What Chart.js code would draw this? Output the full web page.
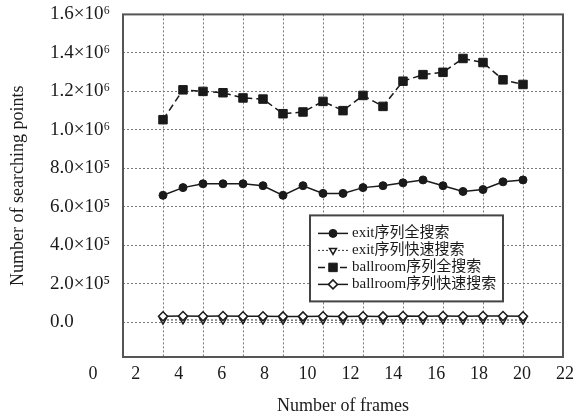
<!DOCTYPE html>
<html>
<head>
<meta charset="utf-8">
<script src="https://cdn.jsdelivr.net/npm/chart.js@4/dist/chart.umd.min.js"></script>
<style>
  html, body { margin: 0; padding: 0; background: #fff; }
  canvas { display: block; }
</style>
</head>
<body>
<canvas id="chart" width="584" height="417"></canvas>
<script>
// --- data ---
const frames = [2, 3, 4, 5, 6, 7, 8, 9, 10, 11, 12, 13, 14, 15, 16, 17, 18, 19, 20];

const exitFull = [660000, 700000, 720000, 720000, 720000, 710000, 660000, 710000, 670000, 670000,
                  700000, 710000, 725000, 740000, 710000, 680000, 690000, 730000, 740000];
const exitFast = [12000, 13000, 12000, 12000, 13000, 12000, 11000, 12000, 12000, 11000,
                  12000, 12000, 13000, 12000, 13000, 12000, 13000, 12000, 12000];
const ballroomFull = [1053000, 1208000, 1200000, 1193000, 1166000, 1160000, 1084000, 1093000, 1148000, 1100000,
                      1179000, 1122000, 1253000, 1287000, 1299000, 1371000, 1350000, 1260000, 1236000];
const ballroomFast = [32000, 33000, 32000, 33000, 32000, 32000, 31000, 31000, 32000, 31000,
                      32000, 31000, 33000, 32000, 33000, 32000, 33000, 33000, 32000];

const seriesNames = ['exit序列全搜索', 'exit序列快速搜索', 'ballroom序列全搜索', 'ballroom序列快速搜索'];

// tick labels
const yTicks = [0, 200000, 400000, 600000, 800000, 1000000, 1200000, 1400000, 1600000];
const yTickLabels = ['0.0', '2.0×10⁵', '4.0×10⁵', '6.0×10⁵', '8.0×10⁵', '1.0×10⁶', '1.2×10⁶', '1.4×10⁶', '1.6×10⁶'];
const xGrid = [0, 2, 4, 6, 8, 10, 12, 14, 16, 18, 20, 22];
const xTickLabels = [0, 2, 4, 6, 8, 10, 12, 14, 16, 18, 20, 22];

const SERIF = '"Liberation Serif", "Times New Roman", "Noto Sans CJK SC", serif';
const INK = '#1a1a1a';
const GRID = '#7a7a7a';

// frame round the plot
const framePlugin = {
    id: 'frame',
    afterDatasetsDraw(chart) {
        const { ctx, chartArea: a } = chart;
        ctx.save();
        ctx.strokeStyle = '#555';
        ctx.lineWidth = 2;
        ctx.strokeRect(a.left, a.top, a.right - a.left, a.bottom - a.top);
        ctx.restore();
    }
};

// boxed legend inside the plot, line sample + marker like the original
const boxLegend = {
    id: 'boxLegend',
    afterDatasetsDraw(chart) {
        const { ctx, chartArea: a } = chart;
        const left = a.left + 187, top = a.top + 201, w = 193, h = 86;
        ctx.save();
        ctx.fillStyle = '#fff';
        ctx.fillRect(left, top, w, h);
        ctx.strokeStyle = '#444';
        ctx.lineWidth = 2;
        ctx.strokeRect(left, top, w, h);

        chart.data.datasets.forEach((ds, i) => {
            const y = top + 18 + i * 17;
            ctx.save();
            ctx.strokeStyle = ds.borderColor;
            ctx.lineWidth = ds.borderWidth;
            ctx.setLineDash(ds.borderDash || []);
            ctx.beginPath();
            ctx.moveTo(left + 8, y);
            ctx.lineTo(left + 38, y);
            ctx.stroke();
            ctx.setLineDash([]);
            ctx.fillStyle = ds.pointBackgroundColor;
            ctx.strokeStyle = ds.pointBorderColor;
            ctx.lineWidth = ds.pointBorderWidth;
            Chart.helpers.drawPoint(ctx, {
                pointStyle: ds.pointStyle,
                rotation: ds.pointRotation || 0,
                radius: ds.pointRadius,
                borderWidth: ds.pointBorderWidth
            }, left + 23, y);
            ctx.restore();

            ctx.fillStyle = INK;
            ctx.font = '15px ' + SERIF;
            ctx.textBaseline = 'middle';
            ctx.fillText(ds.label, left + 42, y);
        });
        ctx.restore();
    }
};

const toPoints = vals => vals.map((v, i) => ({ x: frames[i], y: v }));

new Chart(document.getElementById('chart'), {
    type: 'line',
    data: {
        datasets: [
            {
                label: seriesNames[0], data: toPoints(exitFull), order: 0,
                borderColor: INK, borderWidth: 1.5,
                pointStyle: 'circle', pointRadius: 4,
                pointBackgroundColor: INK, pointBorderColor: INK, pointBorderWidth: 1
            },
            {
                label: seriesNames[1], data: toPoints(exitFast), order: 2,
                borderColor: '#333', borderWidth: 1, borderDash: [2, 2],
                pointStyle: 'triangle', pointRotation: 180, pointRadius: 4,
                pointBackgroundColor: '#fff', pointBorderColor: INK, pointBorderWidth: 1.5
            },
            {
                label: seriesNames[2], data: toPoints(ballroomFull), order: 0,
                borderColor: INK, borderWidth: 1.5, borderDash: [7, 4],
                pointStyle: 'rect', pointRadius: 6,
                pointBackgroundColor: INK, pointBorderColor: INK, pointBorderWidth: 1
            },
            {
                label: seriesNames[3], data: toPoints(ballroomFast), order: 1,
                borderColor: INK, borderWidth: 1.5,
                pointStyle: 'rectRot', pointRadius: 4.5,
                pointBackgroundColor: '#fff', pointBorderColor: INK, pointBorderWidth: 1.5
            }
        ]
    },
    options: {
        responsive: false,
        animation: false,
        layout: { padding: { left: 0, right: 21, top: 12, bottom: 0 } },
        plugins: {
            legend: { display: false },
            tooltip: { enabled: false }
        },
        scales: {
            x: {
                type: 'linear', position: 'bottom', weight: 0,
                min: 0, max: 22,
                afterBuildTicks: s => { s.ticks = xGrid.map(v => ({ value: v })); },
                ticks: { display: false },
                grid: { color: GRID, lineWidth: 1, drawTicks: false },
                border: { display: false, dash: [2, 2] }
            },
            xt: {
                type: 'linear', position: 'bottom', weight: 1,
                min: 1.4, max: 21.91,
                afterBuildTicks: s => { s.ticks = xTickLabels.map(v => ({ value: v })); },
                afterFit: s => { s.height = 60; },
                ticks: {
                    autoSkip: false, maxRotation: 0, padding: 6, color: INK,
                    font: { family: SERIF, size: 18 },
                    callback: v => String(v)
                },
                grid: { display: false, drawTicks: false },
                border: { display: false },
                title: {
                    display: true, text: 'Number of frames', color: INK,
                    font: { family: SERIF, size: 18 },
                    padding: { top: 0, bottom: 0 }
                }
            },
            y: {
                type: 'linear', position: 'left', weight: 0,
                min: -180000, max: 1600000,
                afterBuildTicks: s => { s.ticks = yTicks.map(v => ({ value: v })); },
                afterFit: s => { s.width = 73; },
                ticks: {
                    crossAlign: 'far', color: INK,
                    font: { family: SERIF, size: 19 },
                    callback: (v, i) => yTickLabels[i]
                },
                grid: { color: GRID, lineWidth: 1, drawTicks: false },
                border: { display: false, dash: [2, 2] }
            },
            yt: {
                type: 'linear', position: 'left', weight: 1,
                afterFit: s => { s.width = 50; },
                ticks: { display: false },
                grid: { display: false, drawTicks: false },
                border: { display: false },
                title: {
                    display: true, text: 'Number of searching points', color: INK,
                    font: { family: SERIF, size: 18 },
                    padding: { top: 7, bottom: 0 }
                }
            }
        }
    },
    plugins: [framePlugin, boxLegend]
});
</script>
</body>
</html>
